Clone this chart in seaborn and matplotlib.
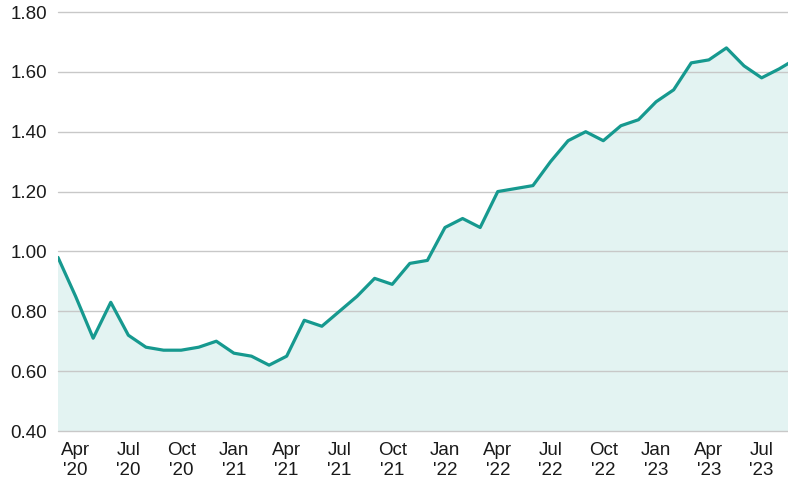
import numpy as np
import pandas as pd
import seaborn as sns
import matplotlib.pyplot as plt

# monthly values, Mar 2020 .. Sep 2023
months = pd.date_range("2020-03-01", "2023-09-01", freq="MS")
values = [0.98, 0.85, 0.71, 0.83, 0.72, 0.68, 0.67, 0.67, 0.68, 0.70,
          0.66, 0.65, 0.62, 0.65, 0.77, 0.75, 0.80, 0.85, 0.91, 0.89,
          0.96, 0.97, 1.08, 1.11, 1.08, 1.20, 1.21, 1.22, 1.30, 1.37,
          1.40, 1.37, 1.42, 1.44, 1.50, 1.54, 1.63, 1.64, 1.68, 1.62,
          1.58, 1.61, 1.645]
tick_labels = ["Apr\n'20", "Jul\n'20", "Oct\n'20", "Jan\n'21", "Apr\n'21",
               "Jul\n'21", "Oct\n'21", "Jan\n'22", "Apr\n'22", "Jul\n'22",
               "Oct\n'22", "Jan\n'23", "Apr\n'23", "Jul\n'23"]
y_ticks = [0.40, 0.60, 0.80, 1.00, 1.20, 1.40, 1.60, 1.80]

df = pd.DataFrame({"idx": np.arange(len(months)), "value": values})

sns.set_style("white")
plt.rcParams['font.family'] = ['Liberation Sans', 'DejaVu Sans']

fig = plt.figure(figsize=(7.88, 4.82), dpi=100)
ax = fig.add_axes([58/788, 51/482, 1 - 58/788, 419/482])

ax.fill_between(df["idx"], df["value"], 0.40, color="#e3f3f2", zorder=1)
sns.lineplot(data=df, x="idx", y="value", ax=ax, color="#16998f", linewidth=2.3, zorder=3)

ax.set_xlim(0, 41.5)
ax.set_ylim(0.40, 1.80)
ax.set_yticks(y_ticks)
ax.set_yticklabels([f"{v:.2f}" for v in y_ticks])
ax.set_xticks(np.arange(1, 41, 3))
ax.set_xticklabels(tick_labels, linespacing=1.25)

ax.grid(axis="y", color="#c8c8c8", linewidth=1.0, zorder=2)
ax.set_axisbelow(False)
for s in ax.spines.values():
    s.set_visible(False)
ax.tick_params(axis="both", length=0, labelsize=13.5, labelcolor="#1a1a1a")
ax.tick_params(axis="y", pad=8)
ax.tick_params(axis="x", pad=8)
ax.set_xlabel("")
ax.set_ylabel("")
for gl in ax.get_ygridlines():
    gl.set_clip_on(False)

fig.savefig("out.png", dpi=100)
